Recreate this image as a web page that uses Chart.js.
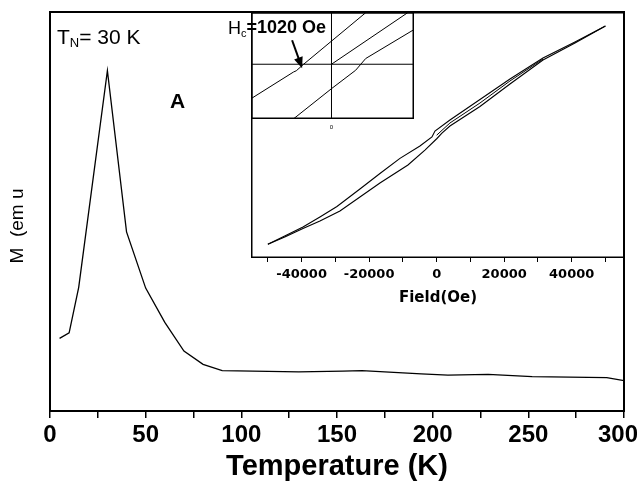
<!DOCTYPE html>
<html>
<head>
<meta charset="utf-8">
<script src="https://cdn.jsdelivr.net/npm/chart.js@4.4.0/dist/chart.umd.min.js"></script>
<style>
  body { margin: 0; background: #fff; }
  #wrap { position: relative; width: 637px; height: 484px; }
  canvas { position: absolute; }
  #main { left: 0; top: 0; }
  #inset { left: 251px; top: 12px; }
  #zoom { left: 251px; top: 12px; }
</style>
</head>
<body>
<div id="wrap">
  <canvas id="main" width="637" height="484"></canvas>
  <canvas id="inset" width="374" height="300"></canvas>
  <canvas id="zoom" width="163" height="120"></canvas>
</div>
<script>
// main curve: M(T)
const temperature = [5, 10, 15, 30, 40, 50, 60, 70, 80, 90, 130, 153, 163, 194, 208, 229, 252, 291, 300];
const moment = [18.2, 19.6, 31, 85.3, 44.9, 30.8, 22.2, 15.0, 11.7, 10.1, 9.8, 10.0, 10.1, 9.3, 9.0, 9.2, 8.6, 8.35, 7.6];
const tempTicks = [0, 25, 50, 75, 100, 125, 150, 175, 200, 225, 250, 275, 300];
const tempLabels = ['0', '', '50', '', '100', '', '150', '', '200', '', '250', '', '300'];

// inset: hysteresis loop M(H)
const fieldDown = [-50000, -45000, -39600, -34580, -29540, -22730, -16800, -10870, -4950, -1390, -500, 3940, 12830, 21720, 31500, 40980, 50000];
const momentDown = [-1.0, -0.923, -0.841, -0.749, -0.653, -0.493, -0.351, -0.212, -0.099, -0.016, 0.038, 0.139, 0.327, 0.515, 0.707, 0.854, 1.0];
const fieldUp = [-50000, -45000, -39600, -34580, -28650, -22730, -16800, -8500, -3470, 90, 1570, 3940, 12830, 21720, 31500, 40980, 50000];
const momentUp = [-1.0, -0.933, -0.855, -0.786, -0.694, -0.566, -0.438, -0.273, -0.136, -0.030, 0.020, 0.084, 0.263, 0.469, 0.689, 0.845, 1.0];
const fieldVirgin = [0, 3940, 12830, 21720, 31500];
const momentVirgin = [0, 0.112, 0.295, 0.497, 0.698];
const fieldTicks = [-50000, -40000, -30000, -20000, -10000, 0, 10000, 20000, 30000, 40000, 50000];
const fieldLabels = ['', '-40000', '', '-20000', '', '0', '', '20000', '', '40000', ''];

// small box: loop near the origin
const zoomFieldDown = [-2944, -1387, -1288, -1019, 1251];
const zoomMomentDown = [-3.43, -0.77, -0.65, 0, 5.13];
const zoomFieldVirgin = [0, 2786];
const zoomMomentVirgin = [0, 5.13];
const zoomFieldUp = [-1387, 0, 883, 1251, 3030];
const zoomMomentUp = [-5.43, -2.43, -0.6, 0.57, 3.47];
const coercive = 1020;

const pts = (xs, ys) => xs.map((x, i) => ({x: x, y: ys[i]}));
const FONT = '"Liberation Sans", Arial, sans-serif';
const WIDE = '"DejaVu Sans", "Liberation Sans", sans-serif';
Chart.defaults.font.family = FONT;
Chart.defaults.color = '#000';

const lineStyle = {showLine: true, borderColor: '#000', pointRadius: 0, tension: 0, fill: false};

const mainNotes = {
  id: 'mainNotes',
  afterDraw(chart) {
    const ctx = chart.ctx;
    const a = chart.chartArea;
    ctx.save();
    ctx.strokeStyle = '#000';
    ctx.lineWidth = 2;
    ctx.strokeRect(a.left, a.top, a.right - a.left, a.bottom - a.top);
    ctx.fillStyle = '#000';
    ctx.textBaseline = 'alphabetic';
    let x = 57;
    ctx.font = '21px ' + FONT;
    ctx.fillText('T', x, 44); x += ctx.measureText('T').width;
    ctx.font = '13px ' + FONT;
    ctx.fillText('N', x, 47); x += ctx.measureText('N').width;
    ctx.font = '21px ' + FONT;
    ctx.fillText('= 30 K', x, 44);
    ctx.font = 'bold 21px ' + FONT;
    ctx.fillText('A', 170, 108);
    x = 228;
    ctx.font = '18px ' + FONT;
    ctx.fillText('H', x, 34); x += ctx.measureText('H').width;
    ctx.font = '11px ' + FONT;
    ctx.fillText('c', x, 37); x += ctx.measureText('c').width;
    ctx.font = 'bold 18px ' + FONT;
    ctx.fillText('=1020 Oe', x, 33);
    // y-axis label
    ctx.translate(18, 226);
    ctx.rotate(-Math.PI / 2);
    ctx.font = '19px ' + FONT;
    ctx.textAlign = 'center';
    ctx.textBaseline = 'middle';
    ctx.fillText('M  (em u', 0, 0);
    ctx.restore();
  }
};

new Chart(document.getElementById('main'), {
  type: 'scatter',
  data: {
    datasets: [Object.assign({data: pts(temperature, moment), borderWidth: 1.3}, lineStyle)]
  },
  options: {
    responsive: false,
    animation: false,
    layout: {padding: {top: 12, right: 13, left: 0, bottom: 0}},
    plugins: {legend: {display: false}, tooltip: {enabled: false}},
    scales: {
      x: {
        type: 'linear', min: 0, max: 300,
        afterBuildTicks: s => { s.ticks = tempTicks.map(v => ({value: v})); },
        afterFit: s => { s.height = 73; s.paddingLeft = 0; s.paddingRight = 0; },
        ticks: {
          callback: (v, i) => i === tempLabels.length - 1 ? tempLabels[i] + '\u2002' : tempLabels[i],
          font: {size: 24, weight: 'bold'}, padding: 3, maxRotation: 0, autoSkip: false
        },
        grid: {drawOnChartArea: false, color: '#000', tickLength: 7, lineWidth: 1.5},
        border: {color: '#000', width: 2},
        title: {display: true, text: 'Temperature (K)', font: {size: 29, weight: 'bold'}, padding: {top: 0, bottom: 0}}
      },
      y: {
        min: 0, max: 100,
        afterFit: s => { s.width = 50; },
        ticks: {display: false},
        grid: {display: false},
        border: {color: '#000', width: 2}
      }
    }
  },
  plugins: [mainNotes]
});

const insetFrame = {
  id: 'insetFrame',
  afterDraw(chart) {
    const ctx = chart.ctx;
    const a = chart.chartArea;
    ctx.save();
    ctx.strokeStyle = '#000';
    ctx.lineWidth = 1.5;
    ctx.strokeRect(a.left + 0.75, a.top + 0.75, a.right - a.left - 1.5, a.bottom - a.top - 1.5);
    ctx.restore();
  }
};

new Chart(document.getElementById('inset'), {
  type: 'scatter',
  data: {
    datasets: [
      Object.assign({data: pts(fieldDown, momentDown), borderWidth: 1.1}, lineStyle),
      Object.assign({data: pts(fieldUp, momentUp), borderWidth: 1.1}, lineStyle),
      Object.assign({data: pts(fieldVirgin, momentVirgin), borderWidth: 1}, lineStyle)
    ]
  },
  options: {
    responsive: false,
    animation: false,
    layout: {padding: 0},
    plugins: {legend: {display: false}, tooltip: {enabled: false}},
    scales: {
      x: {
        type: 'linear', min: -55000, max: 55800,
        afterBuildTicks: s => { s.ticks = fieldTicks.map(v => ({value: v})); },
        afterFit: s => { s.height = 54; s.paddingLeft = 0; s.paddingRight = 0; },
        ticks: {callback: (v, i) => fieldLabels[i], font: {size: 13, weight: 'bold', family: WIDE}, padding: 5, maxRotation: 0, autoSkip: false},
        grid: {drawOnChartArea: false, color: '#000', tickLength: 4, lineWidth: 1},
        border: {display: false},
        title: {display: true, text: 'Field(Oe)', font: {size: 15, weight: 'bold', family: WIDE}, padding: {top: 0, bottom: 5}}
      },
      y: {display: false, min: -1.125, max: 1.129}
    }
  },
  plugins: [insetFrame]
});

const zoomDecor = {
  id: 'zoomDecor',
  beforeDatasetsDraw(chart) {
    const ctx = chart.ctx;
    const a = chart.chartArea;
    const x0 = chart.scales.x.getPixelForValue(0);
    const y0 = chart.scales.y.getPixelForValue(0);
    ctx.save();
    ctx.strokeStyle = '#000';
    ctx.lineWidth = 1;
    ctx.beginPath();
    ctx.moveTo(a.left, y0); ctx.lineTo(a.right, y0);
    ctx.moveTo(x0, a.top); ctx.lineTo(x0, a.bottom);
    ctx.stroke();
    ctx.restore();
  },
  afterDraw(chart) {
    const ctx = chart.ctx;
    const a = chart.chartArea;
    const sx = chart.scales.x, sy = chart.scales.y;
    ctx.save();
    ctx.strokeStyle = '#000';
    ctx.lineWidth = 1.5;
    ctx.strokeRect(a.left + 0.75, a.top + 0.75, a.right - a.left - 1.5, a.bottom - a.top - 1.5);
    // arrow pointing at -Hc
    const tx = sx.getPixelForValue(-coercive) - 1.5, ty = sy.getPixelForValue(0) + 4;
    const fx = tx - 10, fy = ty - 28;
    const ang = Math.atan2(ty - fy, tx - fx);
    ctx.lineWidth = 2;
    ctx.beginPath();
    ctx.moveTo(fx, fy);
    ctx.lineTo(tx - 8 * Math.cos(ang), ty - 8 * Math.sin(ang));
    ctx.stroke();
    ctx.fillStyle = '#000';
    ctx.beginPath();
    ctx.moveTo(tx, ty);
    ctx.lineTo(tx - 11 * Math.cos(ang) + 4.5 * Math.sin(ang), ty - 11 * Math.sin(ang) - 4.5 * Math.cos(ang));
    ctx.lineTo(tx - 11 * Math.cos(ang) - 4.5 * Math.sin(ang), ty - 11 * Math.sin(ang) + 4.5 * Math.cos(ang));
    ctx.closePath();
    ctx.fill();
    ctx.font = '6px ' + FONT;
    ctx.textAlign = 'center';
    ctx.textBaseline = 'top';
    ctx.fillText('0', sx.getPixelForValue(0), a.bottom + 5);
    ctx.restore();
  }
};

new Chart(document.getElementById('zoom'), {
  type: 'scatter',
  data: {
    datasets: [
      Object.assign({data: pts(zoomFieldDown, zoomMomentDown), borderWidth: 1}, lineStyle),
      Object.assign({data: pts(zoomFieldVirgin, zoomMomentVirgin), borderWidth: 1}, lineStyle),
      Object.assign({data: pts(zoomFieldUp, zoomMomentUp), borderWidth: 1}, lineStyle)
    ]
  },
  options: {
    responsive: false,
    animation: false,
    layout: {padding: {bottom: 13}},
    plugins: {legend: {display: false}, tooltip: {enabled: false}},
    scales: {
      x: {display: false, type: 'linear', min: -2944, max: 3018},
      y: {display: false, min: -5.45, max: 5.2}
    }
  },
  plugins: [zoomDecor]
});
</script>
</body>
</html>
